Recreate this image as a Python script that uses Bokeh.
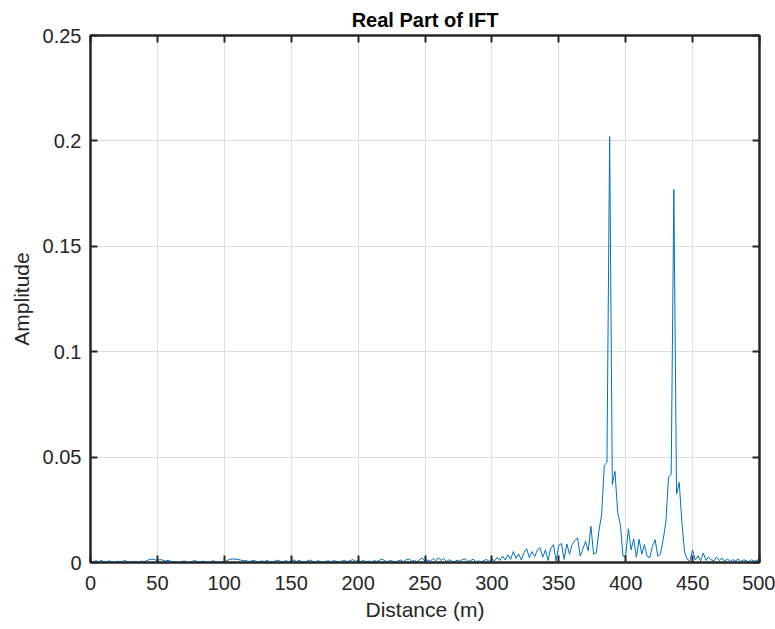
from bokeh.plotting import figure
from bokeh.models import LinearAxis, FixedTicker, Range1d, CustomJSTickFormatter
from bokeh.embed import file_html
from bokeh.resources import INLINE

# Sample spacing of the distance axis (m)
distance_step = 2

# Real part of the IFT, one value per 2 m, from 0 m to 500 m
amplitude = [
    0.0008, 0.0002, 0.0009, 0.0003, 0.0010, 0.0004, 0.0002, 0.0008, 0.0003, 0.0001,
    0.0007, 0.0002, 0.0006, 0.0009, 0.0002, 0.0001, 0.0006, 0.0003, 0.0002, 0.0007,
    0.0004, 0.0009, 0.0014, 0.0016, 0.0013, 0.0010, 0.0014, 0.0011, 0.0007, 0.0010,
    0.0006, 0.0003, 0.0002, 0.0001, 0.0003, 0.0008, 0.0002, 0.0001, 0.0006, 0.0009,
    0.0003, 0.0002, 0.0007, 0.0002, 0.0001, 0.0005, 0.0008, 0.0003, 0.0001, 0.0004,
    0.0002, 0.0009, 0.0015, 0.0017, 0.0016, 0.0014, 0.0012, 0.0008, 0.0010, 0.0004,
    0.0007, 0.0010, 0.0005, 0.0002, 0.0008, 0.0004, 0.0010, 0.0003, 0.0001, 0.0007,
    0.0011, 0.0006, 0.0002, 0.0009, 0.0004, 0.0008, 0.0012, 0.0005, 0.0011, 0.0003,
    0.0002, 0.0007, 0.0012, 0.0006, 0.0002, 0.0009, 0.0004, 0.0001, 0.0006, 0.0008,
    0.0003, 0.0009, 0.0005, 0.0002, 0.0007, 0.0010, 0.0004, 0.0009, 0.0014, 0.0006,
    0.0008, 0.0004, 0.0010, 0.0003, 0.0007, 0.0002, 0.0009, 0.0005, 0.0011, 0.0016,
    0.0008, 0.0003, 0.0010, 0.0006, 0.0002, 0.0008, 0.0012, 0.0004, 0.0013, 0.0017,
    0.0006, 0.0010, 0.0003, 0.0014, 0.0021, 0.0006, 0.0012, 0.0005, 0.0019, 0.0008,
    0.0022, 0.0010, 0.0020, 0.0004, 0.0013, 0.0007, 0.0003, 0.0011, 0.0006, 0.0014,
    0.0017, 0.0005, 0.0009, 0.0016, 0.0004, 0.0008, 0.0002, 0.0010, 0.0014, 0.0005,
    0.0016, 0.0008, 0.0024, 0.0010, 0.0030, 0.0012, 0.0036, 0.0015, 0.0052, 0.0020,
    0.0041, 0.0012, 0.0047, 0.0065, 0.0023, 0.0052, 0.0028, 0.0060, 0.0070, 0.0025,
    0.0060, 0.0010, 0.0068, 0.0085, 0.0008, 0.0082, 0.0090, 0.0015, 0.0088, 0.0040,
    0.0085, 0.0104, 0.0117, 0.0030, 0.0065, 0.0100, 0.0055, 0.0172, 0.0040, 0.0045,
    0.0150, 0.0227, 0.0460, 0.0475, 0.2020, 0.0370, 0.0432, 0.0237, 0.0180, 0.0030,
    0.0030, 0.0160, 0.0060, 0.0112, 0.0025, 0.0110, 0.0040, 0.0085, 0.0030, 0.0022,
    0.0077, 0.0108, 0.0030, 0.0040, 0.0108, 0.0190, 0.0405, 0.0418, 0.1770, 0.0325,
    0.0380, 0.0190, 0.0050, 0.0015, 0.0008, 0.0060, 0.0012, 0.0032, 0.0008, 0.0045,
    0.0010, 0.0026, 0.0012, 0.0008, 0.0026, 0.0009, 0.0022, 0.0006, 0.0018, 0.0004,
    0.0014, 0.0007, 0.0016, 0.0005, 0.0012, 0.0010, 0.0003, 0.0013, 0.0006, 0.0011,
    0.0012,
]
distance = [i * distance_step for i in range(len(amplitude))]

x_ticks = [0, 50, 100, 150, 200, 250, 300, 350, 400, 450, 500]
x_tick_labels = ["0", "50", "100", "150", "200", "250", "300", "350", "400", "450", "500"]
y_ticks = [0, 0.05, 0.1, 0.15, 0.2, 0.25]
y_tick_labels = ["0", "0.05", "0.1", "0.15", "0.2", "0.25"]

FONT = "Liberation Sans"
INK = "#262626"


def label_formatter(vals, labs):
    return CustomJSTickFormatter(
        args=dict(vals=vals, labs=labs),
        code="const i = vals.findIndex(v => Math.abs(v - tick) < 1e-9); return i >= 0 ? labs[i] : '';",
    )


blank = CustomJSTickFormatter(code="return '';")

p = figure(
    width=775, height=629,
    output_backend="svg", toolbar_location=None,
    x_range=Range1d(0, 500), y_range=Range1d(0, 0.25),
    min_border_left=90, min_border_right=16, min_border_top=35, min_border_bottom=67,
    title="Real Part of IFT",
)
p.background_fill_color = "white"
p.border_fill_color = "white"
p.outline_line_color = INK
p.outline_line_width = 2

p.title.align = "center"
p.title.text_font = FONT
p.title.text_font_size = "20px"
p.title.text_font_style = "bold"
p.title.text_color = "black"

p.line(distance, amplitude, line_color="#0072BD", line_width=1)

for ax, ticks, labs in ((p.xaxis[0], x_ticks, x_tick_labels), (p.yaxis[0], y_ticks, y_tick_labels)):
    ax.ticker = FixedTicker(ticks=ticks)
    ax.formatter = label_formatter(ticks, labs)
    ax.major_label_text_font = FONT
    ax.major_label_text_font_size = "20px"
    ax.major_label_text_color = INK
    ax.axis_label_text_font = FONT
    ax.axis_label_text_font_size = "21px"
    ax.axis_label_text_font_style = "normal"
    ax.axis_label_text_color = INK
    ax.axis_line_color = INK
    ax.axis_line_width = 2
    ax.major_tick_line_color = INK
    ax.major_tick_line_width = 2
    ax.major_tick_in = 7
    ax.major_tick_out = 0
    ax.minor_tick_line_color = None

p.xaxis[0].axis_label = "Distance (m)"
p.xaxis[0].major_label_standoff = 13
p.xaxis[0].axis_label_standoff = 5
p.yaxis[0].axis_label = "Amplitude"
p.yaxis[0].major_label_standoff = 9
p.yaxis[0].axis_label_standoff = 7

for side, ticks in (("above", x_ticks), ("right", y_ticks)):
    ax = LinearAxis(ticker=FixedTicker(ticks=ticks), formatter=blank)
    ax.axis_line_color = INK
    ax.axis_line_width = 2
    ax.major_tick_line_color = INK
    ax.major_tick_line_width = 2
    ax.major_tick_in = 7
    ax.major_tick_out = 0
    ax.minor_tick_line_color = None
    ax.major_label_standoff = 0
    p.add_layout(ax, side)

p.xgrid.ticker = FixedTicker(ticks=x_ticks)
p.ygrid.ticker = FixedTicker(ticks=y_ticks)
p.grid.grid_line_color = "#dedede"
p.grid.grid_line_width = 1

open("out.html", "w").write(file_html(p, INLINE))
